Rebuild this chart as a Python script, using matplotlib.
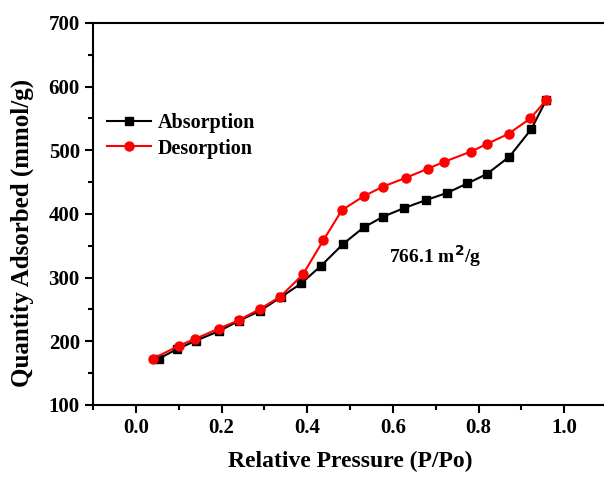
import matplotlib.pyplot as plt
import numpy as np

# Absorption branch
p_abs = [0.054, 0.097, 0.140, 0.194, 0.240, 0.290, 0.338, 0.386, 0.433, 0.484,
         0.532, 0.578, 0.625, 0.678, 0.726, 0.774, 0.820, 0.872, 0.923, 0.958]
q_abs = [173, 188, 201, 216, 232, 248, 269, 291, 319, 353,
         379, 396, 409, 422, 433, 448, 463, 490, 533, 579]

# Desorption branch
p_des = [0.041, 0.100, 0.139, 0.194, 0.240, 0.290, 0.337, 0.390, 0.438, 0.481,
         0.532, 0.577, 0.631, 0.681, 0.720, 0.782, 0.820, 0.870, 0.921, 0.958]
q_des = [173, 193, 204, 220, 233, 251, 270, 305, 359, 406,
         428, 443, 457, 471, 482, 498, 510, 526, 550, 579]

plt.rcParams['font.family'] = 'Liberation Serif'
plt.rcParams['font.weight'] = 'bold'

fig = plt.figure(figsize=(6.04, 4.79), dpi=100)
ax = fig.add_axes([0.154, 0.1545, 0.851, 0.7975])

ax.plot(p_abs, q_abs, color='black', marker='s', markersize=5.5, lw=1.5, label='Absorption')
ax.plot(p_des, q_des, color='red', marker='o', markersize=6.5, lw=1.5, label='Desorption')

ax.set_xlim(-0.1, 1.1)
ax.set_ylim(100, 700)
ax.set_xticks(np.arange(0, 1.01, 0.2))
ax.set_xticks(np.arange(-0.1, 1.1, 0.1), minor=True)
ax.set_yticks(np.arange(100, 701, 100))
ax.set_yticks(np.arange(100, 701, 50), minor=True)
ax.tick_params(which='major', length=6, width=1.5, labelsize=15)
ax.tick_params(which='minor', length=3.5, width=1.5)
for lab in ax.get_xticklabels() + ax.get_yticklabels():
    lab.set_fontweight('bold')
for s in ax.spines.values():
    s.set_linewidth(1.5)

ax.set_xlabel('Relative Pressure (P/Po)', fontsize=17, fontweight='bold', labelpad=9)
ax.set_ylabel('Quantity Adsorbed (mmol/g)', fontsize=18, fontweight='bold')
ax.yaxis.set_label_coords(-0.115, 0.45)

ax.text(0.59, 334, '766.1 m$^\\mathbf{2}$/g', fontsize=14, fontweight='bold', va='center')

ax.legend(loc='upper left', bbox_to_anchor=(0.0, 0.80), frameon=False, fontsize=14.5,
          handlelength=2.2, handletextpad=0.3, labelspacing=0.25, borderaxespad=0.3)

plt.savefig('out.png', dpi=100)
